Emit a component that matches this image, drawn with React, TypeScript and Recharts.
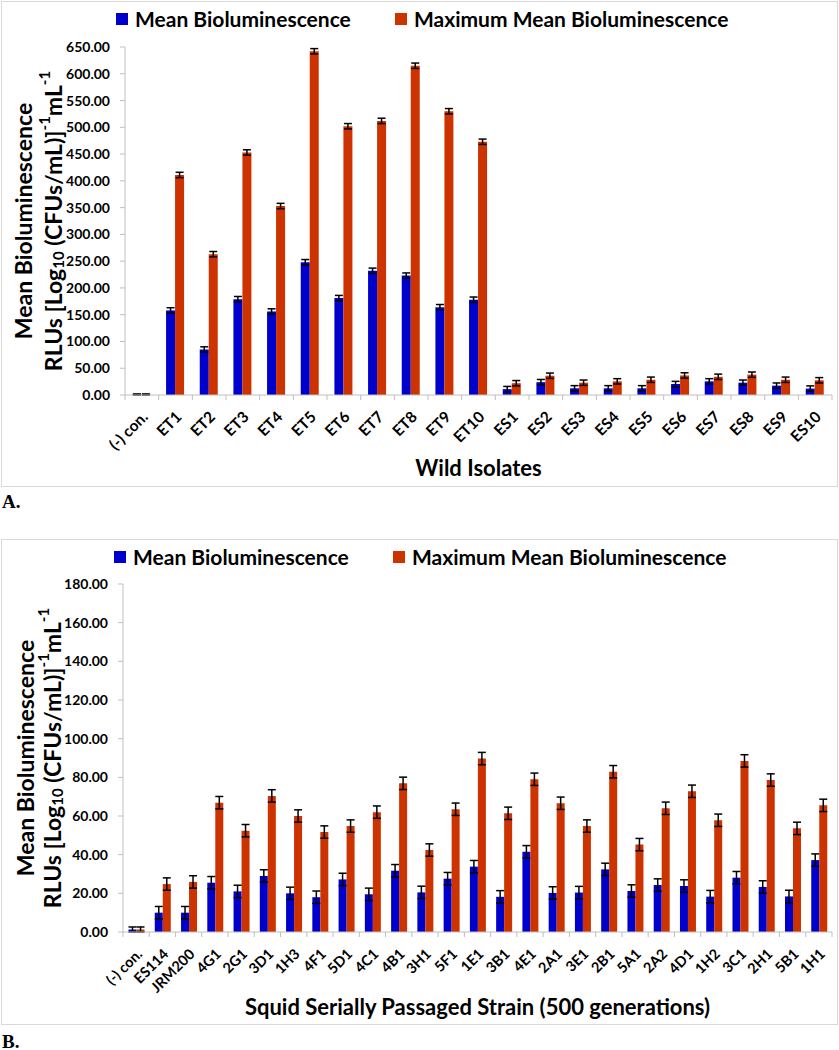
import React from "react";
import { BarChart, Bar, XAxis, YAxis, Legend, ErrorBar, Label } from "recharts";

// Panel A: wild isolates
const wildIsolates = ["(-) con.", "ET1", "ET2", "ET3", "ET4", "ET5", "ET6", "ET7", "ET8", "ET9", "ET10",
    "ES1", "ES2", "ES3", "ES4", "ES5", "ES6", "ES7", "ES8", "ES9", "ES10"];
const wildMean = [1, 158, 85, 179, 156, 248, 181, 232, 223, 164, 178, 11, 24, 12.5, 12.5, 12.5, 20.5, 25.5, 23, 17.5, 12];
const wildMeanErr = [1, 5, 5, 5, 5, 5, 5, 5, 5, 5, 5, 5, 5, 5, 5, 5, 5, 5, 5, 5, 5];
const wildMax = [1, 411, 263, 453, 353, 642, 502, 512, 615, 530, 473, 22, 36, 23, 25.5, 28.5, 36.5, 34, 38, 28.5, 27.5];
const wildMaxErr = [1, 5, 5, 5, 5, 5, 5, 5, 5, 5, 5, 5, 5, 5, 5, 5, 5, 5, 5, 5, 5];
const wildTicks = [0, 50, 100, 150, 200, 250, 300, 350, 400, 450, 500, 550, 600, 650];

// Panel B: squid serially passaged strains
const strains = ["(-) con.", "ES114", "JRM200", "4G1", "2G1", "3D1", "1H3", "4F1", "5D1", "4C1", "4B1", "3H1", "5F1",
    "1E1", "3B1", "4E1", "2A1", "3E1", "2B1", "5A1", "2A2", "4D1", "1H2", "3C1", "2H1", "5B1", "1H1"];
const strainMean = [1.3, 10, 10, 25.5, 21, 29, 20, 18, 27.2, 19.5, 31.7, 20.5, 27.6, 33.8, 18.2, 41.5, 20.2, 20.4,
    32.4, 21.2, 24.3, 23.8, 18.3, 28.1, 23.3, 18.4, 37.2];
const strainMeanErr = [1.3, 3.2, 3.2, 3.2, 3.2, 3.2, 3.2, 3.2, 3.2, 3.2, 3.2, 3.2, 3.2, 3.2, 3.2, 3.2, 3.2, 3.2,
    3.2, 3.2, 3.2, 3.2, 3.2, 3.2, 3.2, 3.2, 3.2];
const strainMax = [1.3, 24.8, 25.9, 66.9, 52.4, 70.4, 60, 51.7, 54.8, 62, 76.9, 42.4, 63.5, 89.7, 61.4, 79, 66.6, 54.8,
    82.9, 45.2, 64, 72.8, 57.8, 88.5, 78.6, 53.6, 65.5];
const strainMaxErr = [1.3, 3.2, 3.2, 3.2, 3.2, 3.2, 3.2, 3.2, 3.2, 3.2, 3.2, 3.2, 3.2, 3.2, 3.2, 3.2, 3.2, 3.2,
    3.2, 3.2, 3.2, 3.2, 3.2, 3.2, 3.2, 3.2, 3.2];
const strainTicks = [0, 20, 40, 60, 80, 100, 120, 140, 160, 180];

const seriesNames = ["Mean Bioluminescence", "Maximum Mean Bioluminescence"];

const FONT = "Lato, 'Open Sans', sans-serif";
const BLUE = "#0000cc";
const RED = "#cc3300";
const AXIS = "#bfbfbf";
const W = 839;
const H = 487;

interface PanelProps {
    top: number;
    categories: string[];
    mean: number[];
    meanErr: number[];
    max: number[];
    maxErr: number[];
    ticks: number[];
    xTitle: string;
    plotLeft: number;
    plotTop: number;
    plotBottom: number;
    gap: string;
    titleOffset: number;
    yTitleX: [number, number];
    tickFont: number;
    letter: string;
    letterY: number;
}

const Panel = (p: PanelProps) => {
    const data = p.categories.map((name, i) => ({
        name,
        mean: p.mean[i],
        meanErr: p.meanErr[i],
        max: p.max[i],
        maxErr: p.maxErr[i],
    }));
    const plotRight = 832;
    const bw = (plotRight - p.plotLeft) / p.categories.length;
    const n = p.categories.length;

    // excel style: tick marks between categories, labels at 45 degrees
    const renderTick = (props: any) => {
        const { x, y, payload, index } = props;
        const ax = x + 7;
        const ay = y + 23;
        return (
            <g>
                <line x1={x - bw / 2} x2={x - bw / 2} y1={y} y2={y + 5} stroke={AXIS} />
                {index === n - 1 && <line x1={x + bw / 2} x2={x + bw / 2} y1={y} y2={y + 5} stroke={AXIS} />}
                <text x={ax} y={ay} textAnchor="end" transform={`rotate(-45 ${ax} ${ay})`}
                    fontFamily={FONT} fontSize={p.tickFont} fontWeight="bold" fill="#000">
                    {payload.value}
                </text>
            </g>
        );
    };

    const renderYTitle = (props: any) => {
        const vb = props.viewBox;
        const cy = vb.y + vb.height / 2;
        const [x1, x2] = p.yTitleX;
        return (
            <g fontFamily={FONT} fontWeight="bold" fill="#000">
                <text x={x1} y={cy} textAnchor="middle" dominantBaseline="central" fontSize={23}
                    transform={`rotate(-90 ${x1} ${cy})`}>Mean Bioluminescence</text>
                <text x={x2} y={cy} textAnchor="middle" dominantBaseline="central" fontSize={23}
                    transform={`rotate(-90 ${x2} ${cy})`}>
                    RLUs [Log<tspan dy={5} fontSize={15}>10</tspan>
                    <tspan dy={-5}> (CFUs/mL)]</tspan>
                    <tspan dy={-9} fontSize={15}>-1</tspan>
                    <tspan dy={9}>mL</tspan>
                    <tspan dy={-9} fontSize={15}>-1</tspan>
                </text>
            </g>
        );
    };

    const renderLegend = (props: any) => {
        const lefts = [0, 279];
        const items = [...(props.payload || [])].sort(
            (a: any, b: any) => seriesNames.indexOf(a.value) - seriesNames.indexOf(b.value));
        return (
            <div style={{ position: "relative", height: 24, fontFamily: FONT }}>
                {items.map((e: any, i: number) => (
                    <div key={e.value} style={{ position: "absolute", left: lefts[i], top: 0, display: "flex", alignItems: "center", whiteSpace: "nowrap" }}>
                        <span style={{ width: 12, height: 12, background: e.color, display: "inline-block", marginRight: 7 }} />
                        <span style={{ fontSize: 21, fontWeight: "bold", color: "#000", lineHeight: "24px" }}>{e.value}</span>
                    </div>
                ))}
            </div>
        );
    };

    return (
        <>
            <div style={{ position: "absolute", left: 1, top: p.top + 1, width: 837, height: 486, border: "1.5px solid #d9d9d9", boxSizing: "border-box" }} />
            <div style={{ position: "absolute", left: 0, top: p.top, width: W, height: H }}>
                <BarChart width={W} height={H} data={data} barGap={0} barCategoryGap={p.gap}
                    margin={{ top: p.plotTop - p.top, right: W - plotRight, left: p.plotLeft - 60, bottom: p.top + H - p.plotBottom - 80 }}>
                    <XAxis dataKey="name" interval={0} height={80} axisLine={{ stroke: AXIS }} tickLine={false}
                        tickSize={0} tickMargin={0} tick={renderTick}>
                        <Label value={p.xTitle} position="insideBottom" offset={p.titleOffset}
                            style={{ fontFamily: FONT, fontSize: 22, fontWeight: "bold", fill: "#000" }} />
                    </XAxis>
                    <YAxis width={60} domain={[p.ticks[0], p.ticks[p.ticks.length - 1]]} ticks={p.ticks} interval={0}
                        axisLine={{ stroke: AXIS }} tickLine={{ stroke: AXIS }} tickSize={5} tickMargin={10}
                        tickFormatter={(v: number) => v.toFixed(2)}
                        tick={{ fontFamily: FONT, fontSize: 14, fontWeight: "bold", fill: "#000" }}>
                        <Label content={renderYTitle} />
                    </YAxis>
                    <Legend verticalAlign="middle" align="center" layout="horizontal"
                        wrapperStyle={{ top: 7, left: p.plotLeft - 9, width: 640 }} content={renderLegend} />
                    <Bar dataKey="mean" name={seriesNames[0]} fill={BLUE} isAnimationActive={false}>
                        <ErrorBar dataKey="meanErr" width={4} stroke="#000" strokeWidth={1.5} direction="y" />
                    </Bar>
                    <Bar dataKey="max" name={seriesNames[1]} fill={RED} isAnimationActive={false}>
                        <ErrorBar dataKey="maxErr" width={4} stroke="#000" strokeWidth={1.5} direction="y" />
                    </Bar>
                </BarChart>
            </div>
            <div style={{ position: "absolute", left: 2, top: p.letterY - 16, fontFamily: "'Liberation Serif', serif", fontWeight: "bold", fontSize: 19, lineHeight: "19px" }}>
                {p.letter}
            </div>
        </>
    );
};

export default function App() {
    return (
        <div style={{ position: "absolute", left: 0, top: 0, width: W, height: 1050, background: "#fff" }}>
            <Panel top={0} categories={wildIsolates} mean={wildMean} meanErr={wildMeanErr} max={wildMax} maxErr={wildMaxErr}
                ticks={wildTicks} xTitle="Wild Isolates" plotLeft={125} plotTop={47} plotBottom={395} gap="22%"
                titleOffset={-1} yTitleX={[23, 53]} tickFont={15.5} letter="A." letterY={508} />
            <Panel top={538} categories={strains} mean={strainMean} meanErr={strainMeanErr} max={strainMax} maxErr={strainMaxErr}
                ticks={strainTicks} xTitle="Squid Serially Passaged Strain (500 generations)" plotLeft={123} plotTop={584}
                plotBottom={932} gap="21%" titleOffset={-3} yTitleX={[25, 52]} tickFont={14.5} letter="B." letterY={1048} />
        </div>
    );
}
